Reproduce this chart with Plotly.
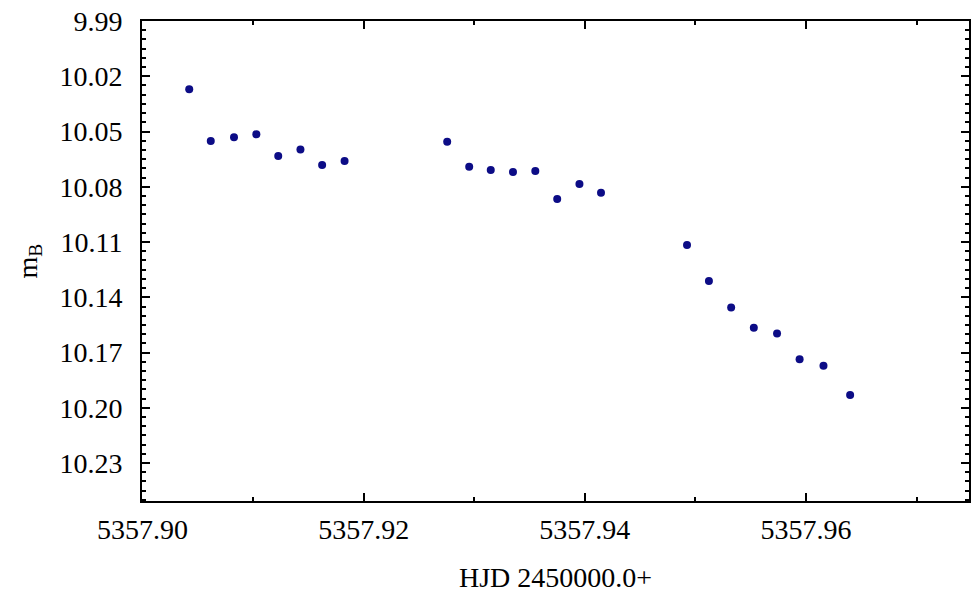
import plotly.graph_objects as go

# Heliocentric Julian Date minus 2450000.0
hjd = [
    5357.90422, 5357.90617, 5357.90827, 5357.91029, 5357.91227, 5357.91428, 5357.91624, 5357.91827,
    5357.92755, 5357.92954, 5357.93149, 5357.93350, 5357.93552, 5357.93750, 5357.93951, 5357.94146,
    5357.94924, 5357.95122, 5357.95323, 5357.95528, 5357.95738, 5357.95942, 5357.96158, 5357.96399,
]
# B-band magnitude
mag_b = [
    10.0271, 10.0552, 10.0531, 10.0515, 10.0633, 10.0597, 10.0682, 10.0660,
    10.0555, 10.0691, 10.0709, 10.0720, 10.0714, 10.0866, 10.0785, 10.0832,
    10.1116, 10.1312, 10.1455, 10.1565, 10.1596, 10.1737, 10.1772, 10.1931,
]

FONT = "Liberation Serif, Times New Roman, DejaVu Serif, serif"

fig = go.Figure(
    go.Scatter(
        x=hjd,
        y=mag_b,
        mode="markers",
        marker=dict(symbol="circle", size=8, color="#0c0c86", line=dict(width=0)),
        showlegend=False,
    )
)

axis_common = dict(
    showgrid=False,
    zeroline=False,
    showline=True,
    linecolor="black",
    linewidth=2,
    mirror="allticks",
    ticks="inside",
    ticklen=8,
    tickwidth=1.5,
    tickcolor="black",
    tickfont=dict(family=FONT, size=28, color="black"),
    tickformat=".2f",
)

fig.update_xaxes(
    **axis_common,
    range=[5357.89995, 5357.97474],
    tick0=5357.90,
    dtick=0.02,
    minor=dict(dtick=0.01, ticks="inside", ticklen=4, tickwidth=1.5, tickcolor="black"),
    title=dict(text="HJD 2450000.0+", font=dict(family=FONT, size=28, color="black"), standoff=24),
    ticklabelstandoff=2,
)

fig.update_yaxes(
    **axis_common,
    range=[10.2506, 9.99],
    tick0=9.99,
    dtick=0.03,
    minor=dict(dtick=0.005, ticks="inside", ticklen=4, tickwidth=1.5, tickcolor="black"),
    title=dict(text="m<sub>B</sub>", font=dict(family=FONT, size=28, color="black"), standoff=14),
    ticklabelstandoff=12,
)

fig.update_layout(
    width=972,
    height=593,
    margin=dict(l=142, r=1, t=21, b=92),
    paper_bgcolor="white",
    plot_bgcolor="white",
    font=dict(family=FONT, color="black"),
)

fig.write_html("out.html")
